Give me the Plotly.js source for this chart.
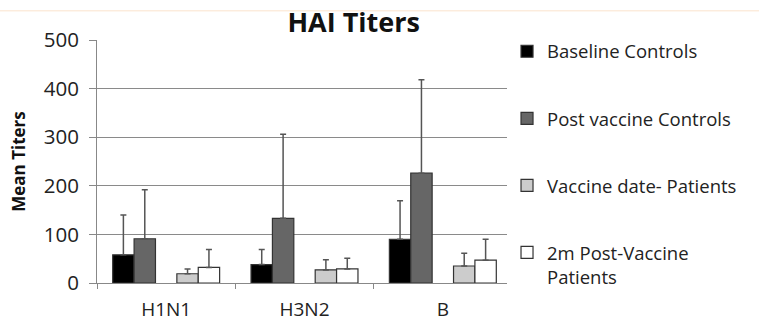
<!DOCTYPE html>
<html>
<head>
<meta charset="utf-8">
<script src="https://cdn.plot.ly/plotly-3.0.1.min.js"></script>
<style>html,body{margin:0;padding:0;background:#fff;}#chart{width:759px;height:325px;}</style>
</head>
<body>
<div id="chart"></div>
<script>
var categories = ["H1N1", "H3N2", "B"];
var seriesNames = ["Baseline Controls", "Post vaccine Controls", "Vaccine date- Patients", "2m Post-Vaccine<br>Patients"];
var baselineControls = [58, 38, 90];
var baselineControlsErr = [82, 31, 79];
var postVaccineControls = [91, 133, 226];
var postVaccineControlsErr = [101, 173, 192];
var vaccineDatePatients = [19, 27, 35];
var vaccineDatePatientsErr = [10, 21, 26];
var postVaccinePatients2m = [32, 29, 47];
var postVaccinePatients2mErr = [37, 22, 43];
var yTicks = [0, 100, 200, 300, 400, 500];

var fills = ["#000000", "#666666", "#cccccc", "#ffffff"];
var font = "Open Sans, sans-serif";

function barTrace(name, y, err, fill, group) {
  return {
    type: "bar", name: name, x: categories, y: y, legendgroup: group,
    marker: {color: fill, line: {color: "#333333", width: 1.2}},
    error_y: {type: "data", array: err, arrayminus: err.map(function(){return 0;}), symmetric: false,
              color: "#555555", thickness: 1.5, width: 3},
    hoverinfo: "skip"
  };
}

var traces = [
  barTrace(seriesNames[0], baselineControls, baselineControlsErr, fills[0], "a"),
  barTrace(seriesNames[1], postVaccineControls, postVaccineControlsErr, fills[1], "b"),
  {type: "bar", x: categories, y: categories.map(function(){return null;}), showlegend: false, hoverinfo: "skip"},
  barTrace(seriesNames[2], vaccineDatePatients, vaccineDatePatientsErr, fills[2], "c"),
  barTrace(seriesNames[3], postVaccinePatients2m, postVaccinePatients2mErr, fills[3], "d")
];

var layout = {
  width: 759, height: 325,
  margin: {l: 97, r: 247, t: 40, b: 42},
  paper_bgcolor: "#ffffff", plot_bgcolor: "#ffffff",
  font: {family: font, color: "#222222"},
  title: {text: "<b>HAI Titers</b>", font: {family: font, size: 27, color: "#111111"},
          x: 0.466, xref: "container", xanchor: "center", y: 0.932, yref: "container", yanchor: "middle"},
  barmode: "group", bargap: 0.227, bargroupgap: 0,
  showlegend: true,
  legend: {x: 0.988, xanchor: "left", y: 1.03, yanchor: "top", font: {family: font, size: 18.5, color: "#222222"},
           traceorder: "grouped", tracegroupgap: 40, valign: "top", itemwidth: 30, maxheight: 320},
  xaxis: {type: "category", tickson: "boundaries", ticks: "outside", ticklen: 5, tickcolor: "#888888",
          showline: true, linecolor: "#888888", linewidth: 1, showgrid: false,
          tickfont: {family: font, size: 19, color: "#222222"}, ticklabelstandoff: 9},
  yaxis: {range: [0, 500], tickvals: yTicks, ticks: "outside", ticklen: 7, tickcolor: "#888888",
          showline: true, linecolor: "#888888", linewidth: 1, showgrid: true, gridcolor: "#8a8a8a", gridwidth: 1,
          zeroline: false, tickfont: {family: font, size: 20.5, color: "#222222"}, ticklabelstandoff: 6,
          title: {text: "<b>Mean Titers</b>", font: {family: font, size: 17, color: "#111111"}, standoff: 13}},
  shapes: [{type: "line", xref: "paper", yref: "paper", x0: -0.3, x1: 1.6, y0: 1.12, y1: 1.12,
            line: {color: "#fbe3cc", width: 1}}]
};

Plotly.newPlot("chart", traces, layout, {displayModeBar: false, staticPlot: true});
</script>
</body>
</html>
